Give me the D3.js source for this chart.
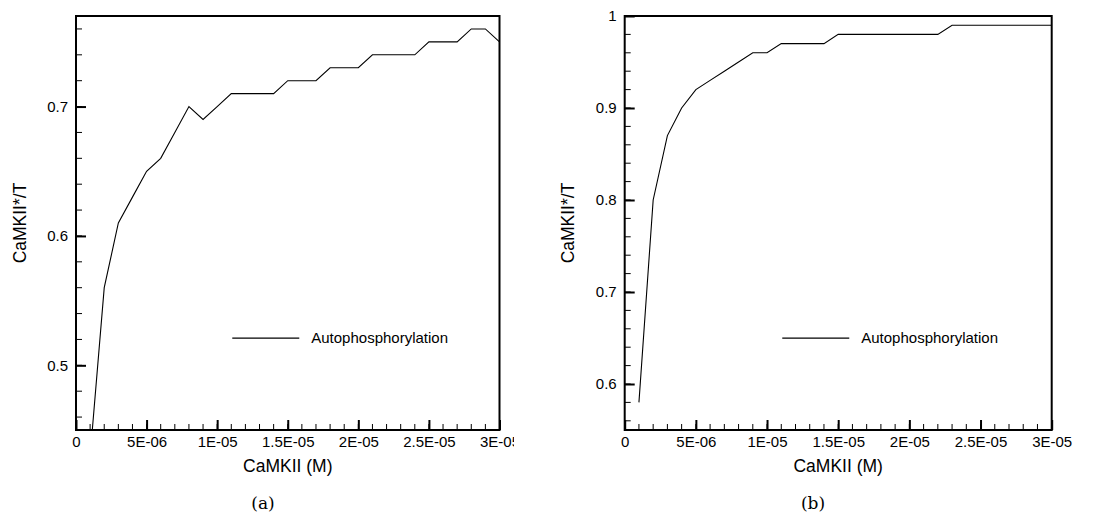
<!DOCTYPE html>
<html>
<head>
<meta charset="utf-8">
<script src="https://cdn.jsdelivr.net/npm/d3@7"></script>
<style>
  body { margin: 0; background: #fff; }
  text { font-family: "Liberation Sans", Arial, sans-serif; fill: #000; }
  .caption { font-family: "DejaVu Serif", serif; }
</style>
</head>
<body>
<svg id="chart" width="1105" height="513"></svg>
<script>
// CaMKII concentration (M), 1E-06 .. 3E-05
const camkii = [1e-6, 2e-6, 3e-6, 4e-6, 5e-6, 6e-6, 7e-6, 8e-6, 9e-6, 10e-6,
  11e-6, 12e-6, 13e-6, 14e-6, 15e-6, 16e-6, 17e-6, 18e-6, 19e-6, 20e-6,
  21e-6, 22e-6, 23e-6, 24e-6, 25e-6, 26e-6, 27e-6, 28e-6, 29e-6, 30e-6];

// panel (a)
const autoA = [0.43, 0.56, 0.61, 0.63, 0.65, 0.66, 0.68, 0.70, 0.69, 0.70,
  0.71, 0.71, 0.71, 0.71, 0.72, 0.72, 0.72, 0.73, 0.73, 0.73,
  0.74, 0.74, 0.74, 0.74, 0.75, 0.75, 0.75, 0.76, 0.76, 0.75];

// panel (b)
const autoB = [0.58, 0.80, 0.87, 0.90, 0.92, 0.93, 0.94, 0.95, 0.96, 0.96,
  0.97, 0.97, 0.97, 0.97, 0.98, 0.98, 0.98, 0.98, 0.98, 0.98,
  0.98, 0.98, 0.99, 0.99, 0.99, 0.99, 0.99, 0.99, 0.99, 0.99];

const xTicks = [0, 5e-6, 1e-5, 1.5e-5, 2e-5, 2.5e-5, 3e-5];
const xTickLabels = ['0', '5E-06', '1E-05', '1.5E-05', '2E-05', '2.5E-05', '3E-05'];
const yTicksA = [0.5, 0.6, 0.7];
const yTicksB = [0.6, 0.7, 0.8, 0.9, 1];

const xTitle = 'CaMKII (M)';
const yTitle = 'CaMKII*/T';
const legendLabel = 'Autophosphorylation';

const svg = d3.select('#chart');

// sub-figure (a) is cut just right of its last tick label
svg.append('defs').append('clipPath').attr('id', 'panelA-clip')
  .append('rect').attr('x', 0).attr('y', 0).attr('width', 514).attr('height', 513);

function drawPanel(opts) {
  const root = svg.append('g').attr('clip-path', opts.clip ? `url(#${opts.clip})` : null);
  const g = root.append('g').attr('transform', `translate(${opts.left}, ${opts.top})`);
  const w = opts.width, h = opts.height;

  const x = d3.scaleLinear().domain([0, 3e-5]).range([0, w]);
  const y = d3.scaleLinear().domain(opts.yDomain).range([h, 0]);

  const clipId = opts.id + '-plot';
  g.append('clipPath').attr('id', clipId)
    .append('rect').attr('width', w).attr('height', h);

  // minor ticks
  const xMinor = d3.range(0, 31).map(i => i * 1e-6);
  g.append('g').selectAll('line').data(xMinor).join('line')
    .attr('x1', d => x(d)).attr('x2', d => x(d))
    .attr('y1', h).attr('y2', h - 6)
    .attr('stroke', '#000').attr('stroke-width', 1);
  const yMinor = d3.range(Math.ceil(opts.yDomain[0] / 0.02 - 1e-6), Math.floor(opts.yDomain[1] / 0.02 + 1e-6) + 1)
    .map(i => i * 0.02);
  g.append('g').selectAll('line').data(yMinor).join('line')
    .attr('x1', 0).attr('x2', 6)
    .attr('y1', d => y(d)).attr('y2', d => y(d))
    .attr('stroke', '#000').attr('stroke-width', 1);

  // major ticks + labels
  const xAxis = g.append('g').attr('transform', `translate(0, ${h})`)
    .call(d3.axisBottom(x).tickValues(xTicks).tickFormat((d, i) => xTickLabels[i]).tickSizeInner(-10).tickSizeOuter(0).tickPadding(6));
  xAxis.select('.domain').remove();
  xAxis.selectAll('.tick line').attr('stroke-width', 2);
  xAxis.selectAll('text').style('font-size', '15px').attr('font-family', null);

  const yAxis = g.append('g')
    .call(d3.axisLeft(y).tickValues(opts.yTicks).tickFormat(d3.format('')).tickSizeInner(-10).tickSizeOuter(0).tickPadding(8));
  yAxis.select('.domain').remove();
  yAxis.selectAll('.tick line').attr('stroke-width', 2);
  yAxis.selectAll('text').style('font-size', '15px').attr('font-family', null);

  // data line
  const line = d3.line().x(d => x(d[0])).y(d => y(d[1]));
  g.append('path')
    .datum(d3.zip(camkii, opts.values))
    .attr('clip-path', `url(#${clipId})`)
    .attr('d', line)
    .attr('fill', 'none').attr('stroke', '#000').attr('stroke-width', 1.1);

  // frame
  g.append('rect').attr('width', w).attr('height', h)
    .attr('fill', 'none').attr('stroke', '#000').attr('stroke-width', 2);

  // legend
  const lx = w * 0.369, ly = h * 0.778;
  g.append('line').attr('x1', lx).attr('x2', lx + 67).attr('y1', ly).attr('y2', ly)
    .attr('stroke', '#000').attr('stroke-width', 1.1);
  g.append('text').attr('x', lx + 79).attr('y', ly).attr('dy', '0.35em')
    .style('font-size', '15px').text(legendLabel);

  // titles
  g.append('text').attr('x', w / 2).attr('y', h + 42)
    .attr('text-anchor', 'middle').style('font-size', '17.5px').text(xTitle);
  g.append('text').attr('transform', `translate(${opts.yTitleX}, ${h / 2}) rotate(-90)`)
    .attr('text-anchor', 'middle').attr('dy', '0.35em').style('font-size', '17.5px').text(yTitle);

  // caption
  svg.append('text').attr('class', 'caption')
    .attr('x', opts.captionX).attr('y', 509)
    .attr('text-anchor', 'middle').style('font-size', '17px').text(opts.caption);
}

drawPanel({ id: 'a', clip: 'panelA-clip', left: 76, top: 16, width: 423.5, height: 414,
  yDomain: [0.45, 0.77], yTicks: yTicksA, values: autoA, yTitleX: -56, captionX: 263, caption: '(a)' });
drawPanel({ id: 'b', clip: null, left: 624.7, top: 16, width: 427, height: 414,
  yDomain: [0.55, 1], yTicks: yTicksB, values: autoB, yTitleX: -57, captionX: 813, caption: '(b)' });
</script>
</body>
</html>
